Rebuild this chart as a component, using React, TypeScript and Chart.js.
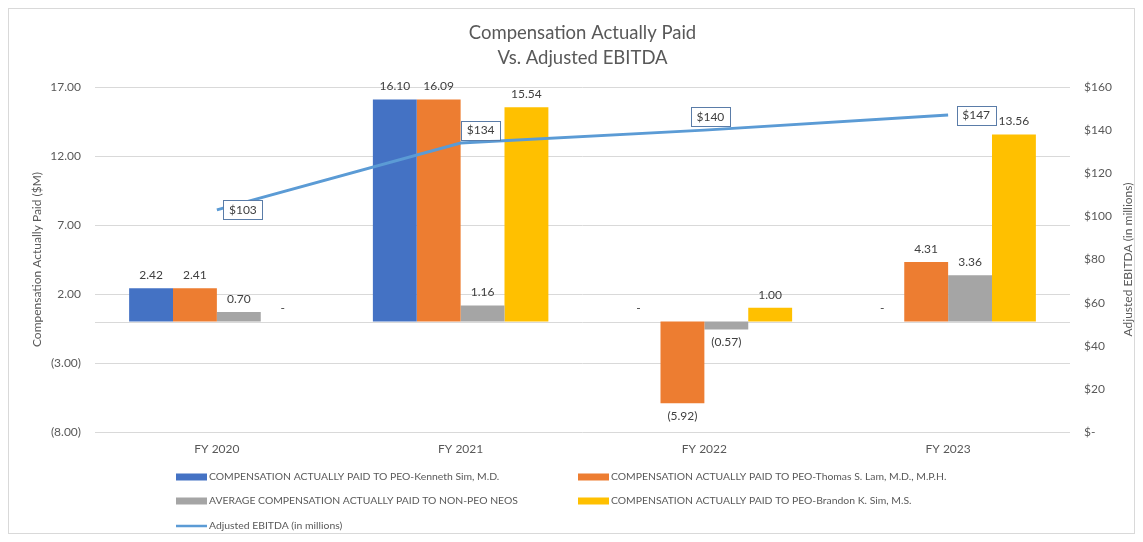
import React, { useEffect, useRef } from 'react';
import { Chart, registerables } from 'chart.js';

Chart.register(...registerables);

const categories = ['FY 2020', 'FY 2021', 'FY 2022', 'FY 2023'];
const kennethSim = [2.42, 16.1, 0, 0];
const thomasLam = [2.41, 16.09, -5.92, 4.31];
const nonPeoNeos = [0.7, 1.16, -0.57, 3.36];
const brandonSim = [0, 15.54, 1.0, 13.56];
const adjustedEbitda = [103, 134, 140, 147];

const seriesLabels = [
  'COMPENSATION ACTUALLY PAID TO PEO-Kenneth Sim, M.D.',
  'COMPENSATION ACTUALLY PAID TO PEO-Thomas S. Lam, M.D., M.P.H.',
  'AVERAGE COMPENSATION ACTUALLY PAID TO NON-PEO NEOS',
  'COMPENSATION ACTUALLY PAID TO PEO-Brandon K. Sim, M.S.',
  'Adjusted EBITDA (in millions)',
];
const titleLines = ['Compensation Actually Paid', 'Vs. Adjusted EBITDA'];
const leftAxisTitle = 'Compensation Actually Paid ($M)';
const rightAxisTitle = 'Adjusted EBITDA (in millions)';

const FONT = 'Lato, "Open Sans", sans-serif';
const TEXT = '#595959';
const LABEL = '#404040';
const GRID = '#d9d9d9';

const fmtComp = (v: number) => {
  if (v === 0) return '-';
  if (v < 0) return '(' + Math.abs(v).toFixed(2) + ')';
  return v.toFixed(2);
};
const fmtDollar = (v: number) => (v === 0 ? '$-' : '$' + v);

// label box offsets (pixels) relative to each EBITDA point
const ebitdaLabelOffsets = [
  [26, 0],
  [20, -13],
  [6, -14],
  [28, 0],
];

const decorPlugin = {
  id: 'decor',
  beforeDraw(chart: any) {
    const { ctx, width, height } = chart;
    ctx.save();
    ctx.fillStyle = '#ffffff';
    ctx.fillRect(0, 0, width, height);
    ctx.strokeStyle = GRID;
    ctx.lineWidth = 1;
    ctx.strokeRect(0.5, 0.5, width - 1, height - 1);
    ctx.restore();
  },
  beforeDatasetsDraw(chart: any) {
    const { ctx, chartArea } = chart;
    const y = Math.round(chart.scales.y.getPixelForValue(0)) + 0.5;
    ctx.save();
    ctx.strokeStyle = GRID;
    ctx.lineWidth = 1;
    ctx.beginPath();
    ctx.moveTo(chartArea.left, y);
    ctx.lineTo(chartArea.right, y);
    ctx.stroke();
    ctx.restore();
  },
  afterDraw(chart: any) {
    const { ctx, chartArea } = chart;
    const cx = (chartArea.left + chartArea.right) / 2;
    const cy = (chartArea.top + chartArea.bottom) / 2;
    ctx.save();

    // title
    ctx.fillStyle = TEXT;
    ctx.font = '18.5px ' + FONT;
    ctx.textAlign = 'center';
    ctx.textBaseline = 'middle';
    ctx.fillText(titleLines[0], cx, 25);
    ctx.fillText(titleLines[1], cx, 50);

    // axis titles
    ctx.font = '12px ' + FONT;
    ctx.save();
    ctx.translate(29, cy);
    ctx.rotate(-Math.PI / 2);
    ctx.fillText(leftAxisTitle, 0, 0);
    ctx.restore();
    ctx.save();
    ctx.translate(1120, cy);
    ctx.rotate(-Math.PI / 2);
    ctx.fillText(rightAxisTitle, 0, 0);
    ctx.restore();

    // bar data labels
    ctx.font = '12px ' + FONT;
    ctx.fillStyle = LABEL;
    for (let d = 0; d < 4; d++) {
      const meta = chart.getDatasetMeta(d);
      const vals = chart.data.datasets[d].data as number[];
      meta.data.forEach((el: any, i: number) => {
        const v = vals[i];
        const y = v < 0 ? el.y + 13 : el.y - 13;
        ctx.fillText(fmtComp(v), el.x, y);
      });
    }

    // EBITDA label boxes
    const lineMeta = chart.getDatasetMeta(4);
    const lineVals = chart.data.datasets[4].data as number[];
    lineMeta.data.forEach((pt: any, i: number) => {
      const [dx, dy] = ebitdaLabelOffsets[i];
      const bx = pt.x + dx;
      const by = pt.y + dy;
      const w = 39;
      const h = 19;
      ctx.fillStyle = '#ffffff';
      ctx.fillRect(bx - w / 2, by - h / 2, w, h);
      ctx.strokeStyle = '#5a7ca8';
      ctx.lineWidth = 1;
      ctx.strokeRect(Math.round(bx - w / 2) + 0.5, Math.round(by - h / 2) + 0.5, w, h);
      ctx.fillStyle = LABEL;
      ctx.fillText(fmtDollar(lineVals[i]), bx, by + 0.5);
    });

    // legend
    const cols = [168, 570];
    const rows = [469, 493, 518];
    ctx.font = '10.4px ' + FONT;
    ctx.textAlign = 'left';
    chart.data.datasets.forEach((ds: any, i: number) => {
      const x = cols[i % 2];
      const y = rows[Math.floor(i / 2)];
      if (ds.type === 'line') {
        ctx.strokeStyle = ds.borderColor;
        ctx.lineWidth = 2.5;
        ctx.beginPath();
        ctx.moveTo(x, y);
        ctx.lineTo(x + 31, y);
        ctx.stroke();
      } else {
        ctx.fillStyle = ds.backgroundColor;
        ctx.fillRect(x, y - 3.5, 31, 7);
      }
      ctx.fillStyle = TEXT;
      ctx.fillText(ds.label, x + 33, y);
    });

    ctx.restore();
  },
};

export default function App() {
  const ref = useRef<HTMLCanvasElement | null>(null);
  useEffect(() => {
    if (!ref.current) return;
    const barCommon = {
      type: 'bar' as const,
      yAxisID: 'y',
      categoryPercentage: 0.72,
      barPercentage: 1.0,
      order: 1,
    };
    const chart = new Chart(ref.current, {
      type: 'bar',
      data: {
        labels: categories,
        datasets: [
          { ...barCommon, label: seriesLabels[0], data: kennethSim, backgroundColor: '#4472C4' },
          { ...barCommon, label: seriesLabels[1], data: thomasLam, backgroundColor: '#ED7D31' },
          { ...barCommon, label: seriesLabels[2], data: nonPeoNeos, backgroundColor: '#A5A5A5' },
          { ...barCommon, label: seriesLabels[3], data: brandonSim, backgroundColor: '#FFC000' },
          {
            type: 'line' as const,
            label: seriesLabels[4],
            data: adjustedEbitda,
            yAxisID: 'y1',
            borderColor: '#5B9BD5',
            backgroundColor: '#5B9BD5',
            borderWidth: 3,
            pointRadius: 0,
            tension: 0,
            order: 0,
          },
        ] as any,
      },
      options: {
        responsive: false,
        animation: false,
        layout: { padding: { left: 10, right: 15, top: 79, bottom: 72 } },
        plugins: {
          legend: { display: false },
          title: { display: false },
          tooltip: { enabled: false },
        },
        scales: {
          x: {
            grid: { display: false, drawTicks: false },
            border: { display: false },
            ticks: { color: TEXT, font: { family: FONT, size: 12 }, padding: 10 },
            afterFit: (s: any) => {
              s.height = 30;
            },
          },
          y: {
            position: 'left',
            min: -8,
            max: 17,
            ticks: {
              stepSize: 5,
              color: TEXT,
              font: { family: FONT, size: 12 },
              padding: 14,
              callback: (v: any) => {
                const n = Number(v);
                return n < 0 ? '(' + Math.abs(n).toFixed(2) + ')' : n.toFixed(2);
              },
            },
            grid: { color: GRID, drawTicks: false },
            border: { display: false },
            afterFit: (s: any) => {
              s.width = 77;
            },
          },
          y1: {
            position: 'right',
            min: 0,
            max: 160,
            ticks: {
              stepSize: 20,
              color: TEXT,
              font: { family: FONT, size: 12 },
              padding: 14,
              callback: (v: any) => fmtDollar(Number(v)),
            },
            grid: { display: false, drawTicks: false },
            border: { display: false },
            afterFit: (s: any) => {
              s.width = 50;
            },
          },
        },
      } as any,
      plugins: [decorPlugin],
    });
    return () => chart.destroy();
  }, []);
  return <canvas ref={ref} width={1127} height={526} style={{ display: 'block' }} />;
}
